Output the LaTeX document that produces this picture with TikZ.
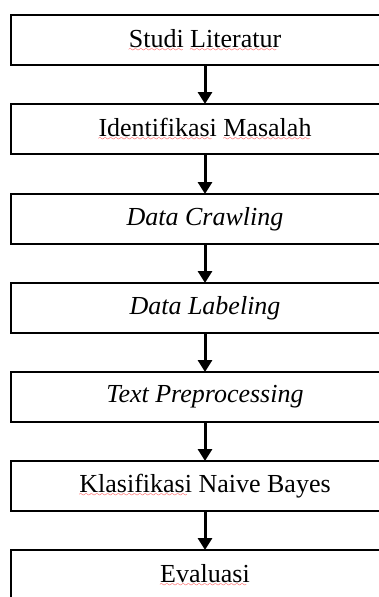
\documentclass[tikz,border=0pt]{standalone}
\usepackage{fontspec}
\setmainfont{Liberation Serif}[Ligatures=NoCommon]
\usetikzlibrary{arrows.meta}
\font\wavefont=lasy7
\newcommand\redwave[1]{\setbox0\hbox{#1}\leavevmode\rlap{\textcolor{red}{\lower4pt\hbox to\wd0{\leaders\hbox{\wavefont\char58}\hfil}}}\box0\relax}
\tikzset{
  stepbox/.style={draw=black, line width=2pt, minimum width=388pt, minimum height=50pt,
    inner sep=0pt, font=\fontsize{26}{30}\selectfont},
  flowarrow/.style={line width=3pt, -{Triangle[width=14pt,length=12pt]}, shorten >=-1pt}
}
\begin{document}
\begin{tikzpicture}[x=1pt,y=-1pt]
\useasboundingbox (0,0) rectangle (379,597);
\clip (0,0) rectangle (379,597);
\node[stepbox] (s1) at (205,40)  {\redwave{Studi} \redwave{Literatur}};
\node[stepbox] (s2) at (205,129) {\redwave{Identifikasi} \redwave{Masalah}};
\node[stepbox] (s3) at (205,219) {\textit{Data Crawling}};
\node[stepbox] (s4) at (205,308) {\textit{Data Labeling}};
\node[stepbox] (s5) at (205,397) {\textit{Text Preprocessing}};
\node[stepbox] (s6) at (205,486) {\redwave{Klasifikasi} Naive Bayes};
\node[stepbox] (s7) at (205,575) {\redwave{Evaluasi}};
\foreach \a/\b in {s1/s2,s2/s3,s3/s4,s4/s5,s5/s6,s6/s7}
  \draw[flowarrow] (\a.south) -- (\b.north);
\end{tikzpicture}
\end{document}
